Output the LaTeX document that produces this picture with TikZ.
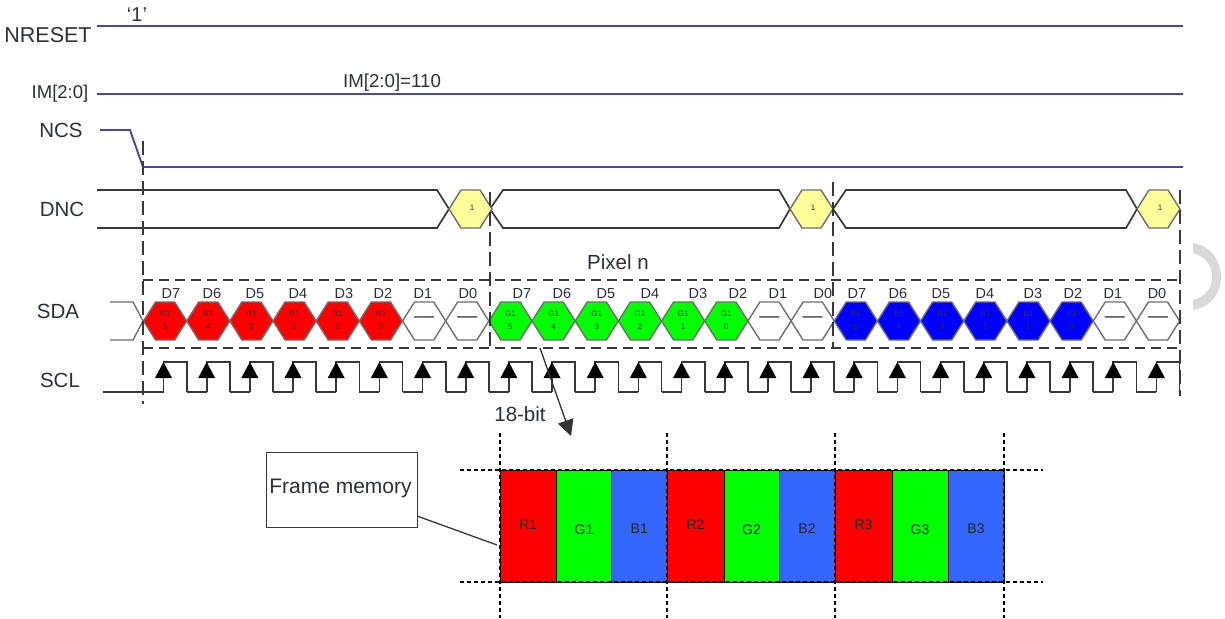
\documentclass[tikz,border=0pt]{standalone}
\usepackage{fontspec}
\setmainfont{Liberation Sans}
\usetikzlibrary{arrows.meta}
\definecolor{sigblue}{RGB}{72,72,160}
\definecolor{wire}{RGB}{56,56,56}
\definecolor{softwire}{RGB}{110,110,110}
\definecolor{labelink}{RGB}{45,48,60}
\definecolor{memblue}{RGB}{51,102,255}
\definecolor{hexyellow}{RGB}{255,255,153}
\newcommand{\fs}[1]{\fontsize{#1}{#1}\selectfont}
\tikzset{
  x=1pt,y=-1pt,
  txt/.style={inner sep=0pt,outer sep=0pt,text=labelink},
  siglabel/.style={txt,font=\fs{20.5}},
  bitlabel/.style={txt,font=\fs{14.5},anchor=base},
  hexlabel/.style={txt,font=\fs{8},text=black!80,align=center},
  signal/.style={draw=sigblue,line width=1.9pt},
  wireline/.style={draw=wire,line width=1.7pt},
  softline/.style={draw=softwire,line width=1.4pt},
  guide/.style={draw=wire,line width=1.7pt,dash pattern=on 14pt off 6pt},
  framedash/.style={draw=wire,line width=1.7pt,dash pattern=on 10pt off 6pt},
  memdash/.style={draw=black,line width=2.3pt,dash pattern=on 4pt off 3pt},
  memcell/.style={draw=black,line width=1pt},
}
\begin{document}
\begin{tikzpicture}
\useasboundingbox (0,0) rectangle (1225,618);
% watermark crescent
\fill[black!15] (1193,243) .. controls (1212,246) and (1221,262) .. (1221,277) .. controls (1221,292) and (1212,307) .. (1193,310) -- (1193,300) .. controls (1206,296) and (1212,288) .. (1212,277) .. controls (1212,266) and (1206,257) .. (1193,253) -- cycle;

% labels
\node[siglabel,font=\fs{21.5}] (lnreset) at (48,35) {NRESET};
\node[siglabel,font=\fs{18.5}] (lim) at (60,94) {IM[2:0]};
\node[siglabel] (lncs) at (61,130) {NCS};
\node[siglabel] (ldnc) at (62,209) {DNC};
\node[siglabel] (lsda) at (58,311) {SDA};
\node[siglabel] (lscl) at (60,380) {SCL};
\node[txt,font=\fs{20}] (one) at (137,15) {‘1’};
\node[txt,font=\fs{18.7}] (imval) at (392,83) {IM[2:0]=110};
\node[txt,font=\fs{20.5}] (pixel) at (618,262) {Pixel n};
\node[txt,font=\fs{20.5}] (bits) at (520,414) {18-bit};

% level signals
\coordinate (a1) at (97,26); \coordinate (a2) at (1183,26);
\coordinate (b1) at (97,94); \coordinate (b2) at (1183,94);
\draw[signal] (a1) -- (a2);
\draw[signal] (b1) -- (b2);
\coordinate (c1) at (100,130); \coordinate (c2) at (130,130);
\coordinate (c3) at (143,167); \coordinate (c4) at (1183,167);
\draw[signal] (c1) -- (c2) -- (c3) -- (c4);

% DNC
\draw[wireline] (97,190) -- (437,190) -- (449,209);
\draw[wireline] (97,228) -- (437,228) -- (449,209);
\foreach \xa/\xb/\xc in {490/503/779, 833/846/1126}{
  \pgfmathsetmacro{\xd}{\xc+11}
  \draw[wireline] (\xa,209) -- (\xb,190) -- (\xc,190) -- (\xd,209);
  \draw[wireline] (\xa,209) -- (\xb,228) -- (\xc,228) -- (\xd,209);
}
\foreach \hx/\nm in {449/h1, 790/h2, 1137/h3}{
  \pgfmathsetmacro{\hb}{\hx+12}
  \pgfmathsetmacro{\hc}{\hx+31}
  \pgfmathsetmacro{\hd}{\hx+43}
  \pgfmathsetmacro{\hm}{\hx+23}
  \draw[softline,fill=hexyellow] (\hx,209) -- (\hb,190) -- (\hc,190) -- (\hd,209) -- (\hc,228) -- (\hb,228) -- cycle;
  \node[hexlabel] (\nm) at (\hm,208) {1};
}

% SDA
\draw[softline] (110,302) -- (133,302) -- (143,321);
\draw[softline] (110,340) -- (133,340) -- (143,321);
\foreach \i/\fillc/\txt in {
 0/red/R1,1/red/R1,2/red/R1,3/red/R1,4/red/R1,5/red/R1,6/white/,7/white/,
 8/green/G1,9/green/G1,10/green/G1,11/green/G1,12/green/G1,13/green/G1,14/white/,15/white/,
 16/blue/B1,17/blue/B1,18/blue/B1,19/blue/B1,20/blue/B1,21/blue/B1,22/white/,23/white/}{
  \pgfmathsetmacro{\xa}{143.5+43.17*\i}
  \pgfmathsetmacro{\xb}{\xa+12}
  \pgfmathsetmacro{\xc}{\xa+31.2}
  \pgfmathsetmacro{\xd}{\xa+43.17}
  \pgfmathsetmacro{\xm}{\xa+21.6}
  \pgfmathtruncatemacro{\bitn}{5-mod(\i,8)}
  \draw[softline,fill=\fillc] (\xa,321) -- (\xb,302) -- (\xc,302) -- (\xd,321) -- (\xc,340) -- (\xb,340) -- cycle;
  \pgfmathtruncatemacro{\isblank}{mod(\i,8)>5 ? 1 : 0}
  \ifnum\isblank=1
    \node[txt,font=\fs{20},text=wire] (cell\i) at (\xm,320) {—};
  \else
    \node[hexlabel] (cell\i) at (\xm,320) {\txt\\[5pt]\bitn};
  \fi
}
\foreach \i/\dx/\dt in {
 0/171/D7,1/212/D6,2/255/D5,3/298/D4,4/344/D3,5/383/D2,6/423/D1,7/468/D0,
 8/522/D7,9/562/D6,10/606/D5,11/650/D4,12/698/D3,13/738/D2,14/778/D1,15/823/D0,
 16/857/D7,17/898/D6,18/941/D5,19/985/D4,20/1033/D3,21/1073/D2,22/1113/D1,23/1157/D0}{
  \node[bitlabel] (d\i) at (\dx,298) {\dt};
}

% SCL
\draw[wireline] (103,392) -- (163.5,392);
\foreach \i in {0,...,23}{
  \pgfmathsetmacro{\xr}{163.5+43.17*\i}
  \pgfmathsetmacro{\xf}{186.7+43.17*\i}
  \pgfmathsetmacro{\xn}{\xr+43.17}
  \pgfmathsetmacro{\tl}{\xr-8.5}
  \pgfmathsetmacro{\tr}{\xr+8.5}
  \draw[wireline] (\xr,392) -- (\xr,362) -- (\xf,362) -- (\xf,392);
  \ifnum\i<23 \draw[wireline] (\xf,392) -- (\xn,392); \fi
  \fill[black] (\xr,362) -- (\tr,378) -- (\tl,378) -- cycle;
}

% guides
\coordinate (g1) at (143,141); \coordinate (g1e) at (143,404);
\coordinate (g2) at (490,192); \coordinate (g2e) at (490,347);
\coordinate (g3) at (833,182); \coordinate (g3e) at (833,347);
\coordinate (g4) at (1180,190); \coordinate (g4e) at (1180,396);
\draw[guide] (g1) -- (g1e);
\draw[guide] (g2) -- (g2e);
\draw[guide] (g3) -- (g3e);
\draw[guide] (g4) -- (g4e);
\coordinate (f1) at (143,280); \coordinate (f2) at (1180,280);
\coordinate (f3) at (143,348); \coordinate (f4) at (1180,348);
\draw[framedash] (f1) -- (f2);
\draw[framedash] (f3) -- (f4);

% frame memory cells
\foreach \xa/\xb/\col/\nm/\ty in {
  500/556.5/red/R1/525, 556.5/611.5/green/G1/530, 611.5/667/memblue/B1/529,
  667/724/red/R2/525, 724/779/green/G2/530, 779/835/memblue/B2/529,
  835/892/red/R3/525, 892/948/green/G3/530, 948/1004/memblue/B3/529}{
  \draw[memcell,fill=\col] (\xa,470) rectangle (\xb,582);
  \pgfmathsetmacro{\xm}{(\xa+\xb)/2}
  \node[txt,text=black!85,font=\fs{14}] (m\nm) at (\xm,\ty) {\nm};
}
\foreach \xv in {500,667,835,1004}{
  \draw[memdash] (\xv,433) -- (\xv,618);
}
\draw[memdash] (460,470) -- (1043,470);
\draw[memdash] (460,582) -- (1043,582);

\node[draw=wire,line width=1.7pt,fill=white,minimum width=151pt,minimum height=75pt,inner sep=0pt,anchor=north west] (fm) at (265.5,451.5) {};
\node[txt,font=\fs{21}] (fmt) at (340.5,488.5) {Frame memory};
\coordinate (fmend) at (497,545);
\coordinate (fmstart) at (417,516);
\draw[draw=wire,line width=1.3pt] (fmstart) -- (fmend);

% 18-bit arrow
\coordinate (ar1) at (540,348); \coordinate (ar2) at (571,436);
\draw[draw=black!80,line width=1.3pt,-{Triangle[length=16pt,width=16pt]}] (ar1) -- (ar2);
\end{tikzpicture}
\end{document}
